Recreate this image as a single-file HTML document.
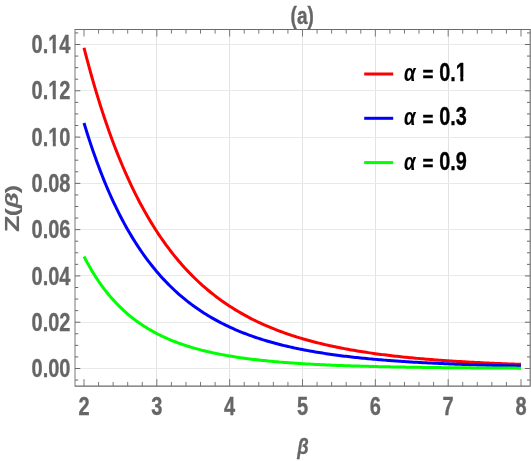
<!DOCTYPE html>
<html><head><meta charset="utf-8"><title>(a)</title>
<style>
html,body{margin:0;padding:0;background:#ffffff;}
body{width:531px;height:461px;overflow:hidden;font-family:"Liberation Sans",sans-serif;}
svg{display:block;will-change:transform;}
text{font-family:"Liberation Sans",sans-serif;font-weight:bold;stroke-width:0.35;stroke-linejoin:round;}
</style></head><body>
<svg width="531" height="461" viewBox="0 0 531 461">
<rect x="0" y="0" width="531" height="461" fill="#ffffff"/>

<g stroke-width="1" shape-rendering="crispEdges">
<line x1="156.5" y1="29.5" x2="156.5" y2="386.1" stroke="#e3e3e3"/>
<line x1="229.5" y1="29.5" x2="229.5" y2="386.1" stroke="#e3e3e3"/>
<line x1="302.5" y1="29.5" x2="302.5" y2="386.1" stroke="#e3e3e3"/>
<line x1="375.5" y1="29.5" x2="375.5" y2="386.1" stroke="#e3e3e3"/>
<line x1="448.5" y1="29.5" x2="448.5" y2="386.1" stroke="#e3e3e3"/>
<line x1="75.0" y1="368.5" x2="530.2" y2="368.5" stroke="#e9e9e9"/>
<line x1="75.0" y1="322.5" x2="530.2" y2="322.5" stroke="#e9e9e9"/>
<line x1="75.0" y1="275.5" x2="530.2" y2="275.5" stroke="#e9e9e9"/>
<line x1="75.0" y1="229.5" x2="530.2" y2="229.5" stroke="#e9e9e9"/>
<line x1="75.0" y1="183.5" x2="530.2" y2="183.5" stroke="#e9e9e9"/>
<line x1="75.0" y1="137.5" x2="530.2" y2="137.5" stroke="#e9e9e9"/>
<line x1="75.0" y1="90.5" x2="530.2" y2="90.5" stroke="#e9e9e9"/>
<line x1="75.0" y1="44.5" x2="530.2" y2="44.5" stroke="#e9e9e9"/>
</g>
<g fill="none" stroke-width="3.0" stroke-linecap="butt" stroke-linejoin="round">
<path d="M84.00,47.75 L85.82,54.82 L87.64,61.72 L89.46,68.44 L91.28,75.00 L93.10,81.40 L94.92,87.64 L96.75,93.74 L98.57,99.68 L100.39,105.48 L102.21,111.15 L104.03,116.67 L105.85,122.07 L107.67,127.34 L109.49,132.48 L111.31,137.50 L113.13,142.40 L114.95,147.19 L116.78,151.87 L118.60,156.44 L120.42,160.90 L122.24,165.26 L124.06,169.51 L125.88,173.67 L127.70,177.73 L129.52,181.70 L131.34,185.58 L133.16,189.37 L134.98,193.08 L136.80,196.70 L138.62,200.24 L140.45,203.70 L142.27,207.08 L144.09,210.38 L145.91,213.61 L147.73,216.77 L149.55,219.86 L151.37,222.88 L153.19,225.83 L155.01,228.72 L156.83,231.55 L158.65,234.31 L160.47,237.01 L162.30,239.65 L164.12,242.23 L165.94,244.76 L167.76,247.23 L169.58,249.65 L171.40,252.02 L173.22,254.33 L175.04,256.60 L176.86,258.81 L178.68,260.98 L180.50,263.10 L182.32,265.18 L184.15,267.21 L185.97,269.20 L187.79,271.14 L189.61,273.05 L191.43,274.91 L193.25,276.74 L195.07,278.52 L196.89,280.27 L198.71,281.98 L200.53,283.66 L202.35,285.30 L204.18,286.90 L206.00,288.47 L207.82,290.01 L209.64,291.52 L211.46,293.00 L213.28,294.44 L215.10,295.86 L216.92,297.24 L218.74,298.60 L220.56,299.93 L222.38,301.23 L224.20,302.51 L226.03,303.76 L227.85,304.98 L229.67,306.18 L231.49,307.35 L233.31,308.51 L235.13,309.63 L236.95,310.74 L238.77,311.82 L240.59,312.88 L242.41,313.92 L244.23,314.93 L246.05,315.93 L247.88,316.91 L249.70,317.86 L251.52,318.80 L253.34,319.72 L255.16,320.62 L256.98,321.50 L258.80,322.37 L260.62,323.22 L262.44,324.05 L264.26,324.86 L266.08,325.66 L267.90,326.44 L269.73,327.21 L271.55,327.96 L273.37,328.70 L275.19,329.42 L277.01,330.13 L278.83,330.83 L280.65,331.51 L282.47,332.18 L284.29,332.83 L286.11,333.47 L287.93,334.10 L289.75,334.72 L291.57,335.33 L293.40,335.92 L295.22,336.50 L297.04,337.07 L298.86,337.63 L300.68,338.18 L302.50,338.72 L304.32,339.25 L306.14,339.77 L307.96,340.28 L309.78,340.78 L311.60,341.26 L313.43,341.74 L315.25,342.21 L317.07,342.68 L318.89,343.13 L320.71,343.57 L322.53,344.01 L324.35,344.44 L326.17,344.86 L327.99,345.27 L329.81,345.67 L331.63,346.07 L333.45,346.46 L335.27,346.84 L337.10,347.21 L338.92,347.58 L340.74,347.94 L342.56,348.30 L344.38,348.64 L346.20,348.98 L348.02,349.32 L349.84,349.65 L351.66,349.97 L353.48,350.28 L355.30,350.60 L357.12,350.90 L358.95,351.20 L360.77,351.49 L362.59,351.78 L364.41,352.06 L366.23,352.34 L368.05,352.61 L369.87,352.88 L371.69,353.14 L373.51,353.40 L375.33,353.66 L377.15,353.90 L378.97,354.15 L380.80,354.39 L382.62,354.62 L384.44,354.86 L386.26,355.08 L388.08,355.31 L389.90,355.52 L391.72,355.74 L393.54,355.95 L395.36,356.16 L397.18,356.36 L399.00,356.56 L400.83,356.76 L402.65,356.95 L404.47,357.14 L406.29,357.33 L408.11,357.51 L409.93,357.69 L411.75,357.86 L413.57,358.04 L415.39,358.21 L417.21,358.37 L419.03,358.54 L420.85,358.70 L422.68,358.86 L424.50,359.01 L426.32,359.17 L428.14,359.32 L429.96,359.47 L431.78,359.61 L433.60,359.75 L435.42,359.89 L437.24,360.03 L439.06,360.17 L440.88,360.30 L442.70,360.43 L444.53,360.56 L446.35,360.68 L448.17,360.81 L449.99,360.93 L451.81,361.05 L453.63,361.17 L455.45,361.28 L457.27,361.40 L459.09,361.51 L460.91,361.62 L462.73,361.73 L464.55,361.83 L466.38,361.94 L468.20,362.04 L470.02,362.14 L471.84,362.24 L473.66,362.33 L475.48,362.43 L477.30,362.52 L479.12,362.62 L480.94,362.71 L482.76,362.80 L484.58,362.88 L486.40,362.97 L488.23,363.06 L490.05,363.14 L491.87,363.22 L493.69,363.30 L495.51,363.38 L497.33,363.46 L499.15,363.54 L500.97,363.61 L502.79,363.69 L504.61,363.76 L506.43,363.83 L508.25,363.90 L510.08,363.97 L511.90,364.04 L513.72,364.11 L515.54,364.17 L517.36,364.24 L519.18,364.30 L521.00,364.36" stroke="#ff0000"/>
<path d="M84.00,122.97 L85.82,128.93 L87.64,134.73 L89.46,140.36 L91.28,145.85 L93.10,151.18 L94.92,156.37 L96.75,161.43 L98.57,166.35 L100.39,171.13 L102.21,175.79 L104.03,180.33 L105.85,184.75 L107.67,189.05 L109.49,193.25 L111.31,197.33 L113.13,201.30 L114.95,205.18 L116.78,208.95 L118.60,212.63 L120.42,216.21 L122.24,219.70 L124.06,223.10 L125.88,226.42 L127.70,229.65 L129.52,232.81 L131.34,235.88 L133.16,238.87 L134.98,241.79 L136.80,244.64 L138.62,247.42 L140.45,250.13 L142.27,252.77 L144.09,255.35 L145.91,257.86 L147.73,260.31 L149.55,262.70 L151.37,265.04 L153.19,267.31 L155.01,269.54 L156.83,271.70 L158.65,273.82 L160.47,275.89 L162.30,277.90 L164.12,279.87 L165.94,281.79 L167.76,283.66 L169.58,285.49 L171.40,287.28 L173.22,289.03 L175.04,290.73 L176.86,292.39 L178.68,294.02 L180.50,295.60 L182.32,297.15 L184.15,298.67 L185.97,300.15 L187.79,301.59 L189.61,303.00 L191.43,304.38 L193.25,305.72 L195.07,307.04 L196.89,308.32 L198.71,309.58 L200.53,310.81 L202.35,312.01 L204.18,313.18 L206.00,314.32 L207.82,315.44 L209.64,316.53 L211.46,317.60 L213.28,318.65 L215.10,319.67 L216.92,320.67 L218.74,321.65 L220.56,322.60 L222.38,323.53 L224.20,324.45 L226.03,325.34 L227.85,326.21 L229.67,327.06 L231.49,327.90 L233.31,328.71 L235.13,329.51 L236.95,330.29 L238.77,331.06 L240.59,331.80 L242.41,332.53 L244.23,333.25 L246.05,333.95 L247.88,334.63 L249.70,335.30 L251.52,335.96 L253.34,336.60 L255.16,337.22 L256.98,337.84 L258.80,338.44 L260.62,339.02 L262.44,339.60 L264.26,340.16 L266.08,340.71 L267.90,341.25 L269.73,341.78 L271.55,342.29 L273.37,342.80 L275.19,343.29 L277.01,343.78 L278.83,344.25 L280.65,344.72 L282.47,345.17 L284.29,345.61 L286.11,346.05 L287.93,346.48 L289.75,346.89 L291.57,347.30 L293.40,347.70 L295.22,348.10 L297.04,348.48 L298.86,348.86 L300.68,349.22 L302.50,349.59 L304.32,349.94 L306.14,350.28 L307.96,350.62 L309.78,350.96 L311.60,351.28 L313.43,351.60 L315.25,351.91 L317.07,352.22 L318.89,352.52 L320.71,352.81 L322.53,353.10 L324.35,353.38 L326.17,353.66 L327.99,353.93 L329.81,354.19 L331.63,354.45 L333.45,354.71 L335.27,354.96 L337.10,355.20 L338.92,355.44 L340.74,355.68 L342.56,355.91 L344.38,356.14 L346.20,356.36 L348.02,356.57 L349.84,356.79 L351.66,357.00 L353.48,357.20 L355.30,357.40 L357.12,357.60 L358.95,357.79 L360.77,357.98 L362.59,358.16 L364.41,358.35 L366.23,358.53 L368.05,358.70 L369.87,358.87 L371.69,359.04 L373.51,359.20 L375.33,359.37 L377.15,359.52 L378.97,359.68 L380.80,359.83 L382.62,359.98 L384.44,360.13 L386.26,360.27 L388.08,360.41 L389.90,360.55 L391.72,360.69 L393.54,360.82 L395.36,360.95 L397.18,361.08 L399.00,361.21 L400.83,361.33 L402.65,361.45 L404.47,361.57 L406.29,361.69 L408.11,361.80 L409.93,361.92 L411.75,362.03 L413.57,362.14 L415.39,362.24 L417.21,362.35 L419.03,362.45 L420.85,362.55 L422.68,362.65 L424.50,362.74 L426.32,362.84 L428.14,362.93 L429.96,363.02 L431.78,363.11 L433.60,363.20 L435.42,363.29 L437.24,363.37 L439.06,363.46 L440.88,363.54 L442.70,363.62 L444.53,363.70 L446.35,363.78 L448.17,363.85 L449.99,363.93 L451.81,364.00 L453.63,364.08 L455.45,364.15 L457.27,364.22 L459.09,364.28 L460.91,364.35 L462.73,364.42 L464.55,364.48 L466.38,364.55 L468.20,364.61 L470.02,364.67 L471.84,364.73 L473.66,364.79 L475.48,364.85 L477.30,364.91 L479.12,364.96 L480.94,365.02 L482.76,365.07 L484.58,365.12 L486.40,365.18 L488.23,365.23 L490.05,365.28 L491.87,365.33 L493.69,365.38 L495.51,365.43 L497.33,365.47 L499.15,365.52 L500.97,365.56 L502.79,365.61 L504.61,365.65 L506.43,365.70 L508.25,365.74 L510.08,365.78 L511.90,365.82 L513.72,365.86 L515.54,365.90 L517.36,365.94 L519.18,365.98 L521.00,366.02" stroke="#0000ff"/>
<path d="M84.00,256.47 L85.82,259.97 L87.64,263.35 L89.46,266.60 L91.28,269.74 L93.10,272.76 L94.92,275.68 L96.75,278.49 L98.57,281.21 L100.39,283.83 L102.21,286.36 L104.03,288.80 L105.85,291.16 L107.67,293.44 L109.49,295.64 L111.31,297.77 L113.13,299.83 L114.95,301.82 L116.78,303.74 L118.60,305.60 L120.42,307.40 L122.24,309.14 L124.06,310.83 L125.88,312.46 L127.70,314.04 L129.52,315.57 L131.34,317.05 L133.16,318.48 L134.98,319.87 L136.80,321.22 L138.62,322.52 L140.45,323.78 L142.27,325.01 L144.09,326.20 L145.91,327.35 L147.73,328.47 L149.55,329.55 L151.37,330.60 L153.19,331.62 L155.01,332.61 L156.83,333.56 L158.65,334.49 L160.47,335.40 L162.30,336.27 L164.12,337.13 L165.94,337.95 L167.76,338.75 L169.58,339.53 L171.40,340.29 L173.22,341.02 L175.04,341.74 L176.86,342.43 L178.68,343.11 L180.50,343.76 L182.32,344.40 L184.15,345.02 L185.97,345.62 L187.79,346.20 L189.61,346.77 L191.43,347.32 L193.25,347.86 L195.07,348.38 L196.89,348.89 L198.71,349.38 L200.53,349.86 L202.35,350.33 L204.18,350.78 L206.00,351.23 L207.82,351.66 L209.64,352.07 L211.46,352.48 L213.28,352.88 L215.10,353.26 L216.92,353.64 L218.74,354.01 L220.56,354.36 L222.38,354.71 L224.20,355.05 L226.03,355.37 L227.85,355.69 L229.67,356.01 L231.49,356.31 L233.31,356.60 L235.13,356.89 L236.95,357.17 L238.77,357.44 L240.59,357.71 L242.41,357.97 L244.23,358.22 L246.05,358.47 L247.88,358.71 L249.70,358.94 L251.52,359.17 L253.34,359.39 L255.16,359.61 L256.98,359.82 L258.80,360.02 L260.62,360.22 L262.44,360.42 L264.26,360.61 L266.08,360.79 L267.90,360.98 L269.73,361.15 L271.55,361.32 L273.37,361.49 L275.19,361.66 L277.01,361.81 L278.83,361.97 L280.65,362.12 L282.47,362.27 L284.29,362.41 L286.11,362.56 L287.93,362.69 L289.75,362.83 L291.57,362.96 L293.40,363.08 L295.22,363.21 L297.04,363.33 L298.86,363.45 L300.68,363.56 L302.50,363.68 L304.32,363.79 L306.14,363.89 L307.96,364.00 L309.78,364.10 L311.60,364.20 L313.43,364.30 L315.25,364.39 L317.07,364.49 L318.89,364.58 L320.71,364.67 L322.53,364.75 L324.35,364.84 L326.17,364.92 L327.99,365.00 L329.81,365.08 L331.63,365.16 L333.45,365.23 L335.27,365.30 L337.10,365.38 L338.92,365.44 L340.74,365.51 L342.56,365.58 L344.38,365.64 L346.20,365.71 L348.02,365.77 L349.84,365.83 L351.66,365.89 L353.48,365.95 L355.30,366.00 L357.12,366.06 L358.95,366.11 L360.77,366.17 L362.59,366.22 L364.41,366.27 L366.23,366.32 L368.05,366.36 L369.87,366.41 L371.69,366.46 L373.51,366.50 L375.33,366.55 L377.15,366.59 L378.97,366.63 L380.80,366.67 L382.62,366.71 L384.44,366.75 L386.26,366.79 L388.08,366.82 L389.90,366.86 L391.72,366.90 L393.54,366.93 L395.36,366.97 L397.18,367.00 L399.00,367.03 L400.83,367.06 L402.65,367.09 L404.47,367.12 L406.29,367.15 L408.11,367.18 L409.93,367.21 L411.75,367.24 L413.57,367.27 L415.39,367.29 L417.21,367.32 L419.03,367.34 L420.85,367.37 L422.68,367.39 L424.50,367.42 L426.32,367.44 L428.14,367.46 L429.96,367.48 L431.78,367.51 L433.60,367.53 L435.42,367.55 L437.24,367.57 L439.06,367.59 L440.88,367.61 L442.70,367.63 L444.53,367.64 L446.35,367.66 L448.17,367.68 L449.99,367.70 L451.81,367.71 L453.63,367.73 L455.45,367.75 L457.27,367.76 L459.09,367.78 L460.91,367.79 L462.73,367.81 L464.55,367.82 L466.38,367.84 L468.20,367.85 L470.02,367.86 L471.84,367.88 L473.66,367.89 L475.48,367.90 L477.30,367.92 L479.12,367.93 L480.94,367.94 L482.76,367.95 L484.58,367.96 L486.40,367.97 L488.23,367.99 L490.05,368.00 L491.87,368.01 L493.69,368.02 L495.51,368.03 L497.33,368.04 L499.15,368.05 L500.97,368.06 L502.79,368.06 L504.61,368.07 L506.43,368.08 L508.25,368.09 L510.08,368.10 L511.90,368.11 L513.72,368.12 L515.54,368.12 L517.36,368.13 L519.18,368.14 L521.00,368.15" stroke="#00ff00"/>
</g>
<g stroke="#6a6a6a" stroke-width="1">
<path stroke-width="0.9" d="M84.00,386.1v-7.0M84.00,29.5v7.0M98.57,386.1v-4.2M98.57,29.5v4.2M113.13,386.1v-4.2M113.13,29.5v4.2M127.70,386.1v-4.2M127.70,29.5v4.2M142.27,386.1v-4.2M142.27,29.5v4.2M156.83,386.1v-7.0M156.83,29.5v7.0M171.40,386.1v-4.2M171.40,29.5v4.2M185.97,386.1v-4.2M185.97,29.5v4.2M200.53,386.1v-4.2M200.53,29.5v4.2M215.10,386.1v-4.2M215.10,29.5v4.2M229.67,386.1v-7.0M229.67,29.5v7.0M244.23,386.1v-4.2M244.23,29.5v4.2M258.80,386.1v-4.2M258.80,29.5v4.2M273.37,386.1v-4.2M273.37,29.5v4.2M287.93,386.1v-4.2M287.93,29.5v4.2M302.50,386.1v-7.0M302.50,29.5v7.0M317.07,386.1v-4.2M317.07,29.5v4.2M331.63,386.1v-4.2M331.63,29.5v4.2M346.20,386.1v-4.2M346.20,29.5v4.2M360.77,386.1v-4.2M360.77,29.5v4.2M375.33,386.1v-7.0M375.33,29.5v7.0M389.90,386.1v-4.2M389.90,29.5v4.2M404.47,386.1v-4.2M404.47,29.5v4.2M419.03,386.1v-4.2M419.03,29.5v4.2M433.60,386.1v-4.2M433.60,29.5v4.2M448.17,386.1v-7.0M448.17,29.5v7.0M462.73,386.1v-4.2M462.73,29.5v4.2M477.30,386.1v-4.2M477.30,29.5v4.2M491.87,386.1v-4.2M491.87,29.5v4.2M506.43,386.1v-4.2M506.43,29.5v4.2M521.00,386.1v-7.0M521.00,29.5v7.0"/>
<path d="M75.0,380.07h3.2M530.2,380.07h-3.2M75.0,368.50h5.3M530.2,368.50h-5.3M75.0,356.93h3.2M530.2,356.93h-3.2M75.0,345.36h3.2M530.2,345.36h-3.2M75.0,333.79h3.2M530.2,333.79h-3.2M75.0,322.21h5.3M530.2,322.21h-5.3M75.0,310.64h3.2M530.2,310.64h-3.2M75.0,299.07h3.2M530.2,299.07h-3.2M75.0,287.50h3.2M530.2,287.50h-3.2M75.0,275.93h5.3M530.2,275.93h-5.3M75.0,264.36h3.2M530.2,264.36h-3.2M75.0,252.79h3.2M530.2,252.79h-3.2M75.0,241.21h3.2M530.2,241.21h-3.2M75.0,229.64h5.3M530.2,229.64h-5.3M75.0,218.07h3.2M530.2,218.07h-3.2M75.0,206.50h3.2M530.2,206.50h-3.2M75.0,194.93h3.2M530.2,194.93h-3.2M75.0,183.36h5.3M530.2,183.36h-5.3M75.0,171.79h3.2M530.2,171.79h-3.2M75.0,160.21h3.2M530.2,160.21h-3.2M75.0,148.64h3.2M530.2,148.64h-3.2M75.0,137.07h5.3M530.2,137.07h-5.3M75.0,125.50h3.2M530.2,125.50h-3.2M75.0,113.93h3.2M530.2,113.93h-3.2M75.0,102.36h3.2M530.2,102.36h-3.2M75.0,90.79h5.3M530.2,90.79h-5.3M75.0,79.21h3.2M530.2,79.21h-3.2M75.0,67.64h3.2M530.2,67.64h-3.2M75.0,56.07h3.2M530.2,56.07h-3.2M75.0,44.50h5.3M530.2,44.50h-5.3M75.0,32.93h3.2M530.2,32.93h-3.2"/>
</g>
<g stroke="#6a6a6a" fill="none">
<line x1="75.0" y1="29.5" x2="530.2" y2="29.5" stroke-width="1"/>
<line x1="75.0" y1="386.1" x2="530.2" y2="386.1" stroke-width="1.15"/>
<line x1="75.0" y1="29.0" x2="75.0" y2="386.6" stroke-width="0.9"/>
<line x1="530.2" y1="29.0" x2="530.2" y2="386.6" stroke-width="1.1"/>
</g>
<text transform="translate(84.0,415) scale(0.8,1)" text-anchor="middle" font-size="25.0" fill="#666666" stroke="#666666" >2</text>
<text transform="translate(156.83,415) scale(0.8,1)" text-anchor="middle" font-size="25.0" fill="#666666" stroke="#666666" >3</text>
<text transform="translate(229.67,415) scale(0.8,1)" text-anchor="middle" font-size="25.0" fill="#666666" stroke="#666666" >4</text>
<text transform="translate(302.5,415) scale(0.8,1)" text-anchor="middle" font-size="25.0" fill="#666666" stroke="#666666" >5</text>
<text transform="translate(375.33,415) scale(0.8,1)" text-anchor="middle" font-size="25.0" fill="#666666" stroke="#666666" >6</text>
<text transform="translate(448.17,415) scale(0.8,1)" text-anchor="middle" font-size="25.0" fill="#666666" stroke="#666666" >7</text>
<text transform="translate(521.0,415) scale(0.8,1)" text-anchor="middle" font-size="25.0" fill="#666666" stroke="#666666" >8</text>
<text transform="translate(70.5,377.2) scale(0.8,1)" text-anchor="end" font-size="25.0" fill="#666666" stroke="#666666" >0.00</text>
<text transform="translate(70.5,330.91) scale(0.8,1)" text-anchor="end" font-size="25.0" fill="#666666" stroke="#666666" >0.02</text>
<text transform="translate(70.5,284.63) scale(0.8,1)" text-anchor="end" font-size="25.0" fill="#666666" stroke="#666666" >0.04</text>
<text transform="translate(70.5,238.34) scale(0.8,1)" text-anchor="end" font-size="25.0" fill="#666666" stroke="#666666" >0.06</text>
<text transform="translate(70.5,192.06) scale(0.8,1)" text-anchor="end" font-size="25.0" fill="#666666" stroke="#666666" >0.08</text>
<text transform="translate(70.5,145.77) scale(0.8,1)" text-anchor="end" font-size="25.0" fill="#666666" stroke="#666666" >0.10</text>
<text transform="translate(70.5,99.49) scale(0.8,1)" text-anchor="end" font-size="25.0" fill="#666666" stroke="#666666" >0.12</text>
<text transform="translate(70.5,53.2) scale(0.8,1)" text-anchor="end" font-size="25.0" fill="#666666" stroke="#666666" >0.14</text>
<rect x="48.61" y="142.05" width="4.17" height="5.03" fill="#ffffff"/><rect x="55.81" y="142.05" width="3.71" height="5.03" fill="#ffffff"/>
<rect x="48.61" y="95.76" width="4.17" height="5.03" fill="#ffffff"/><rect x="55.81" y="95.76" width="3.71" height="5.03" fill="#ffffff"/>
<rect x="48.61" y="49.47" width="4.17" height="5.03" fill="#ffffff"/><rect x="55.81" y="49.47" width="3.71" height="5.03" fill="#ffffff"/>
<text transform="translate(302.2,23.7) scale(0.82,1)" text-anchor="middle" font-size="23.2" fill="#666666" stroke="#666666" >(a)</text>
<text transform="translate(303.0,454.4) scale(0.83,1)" text-anchor="middle" font-size="22.2" fill="#666666" stroke="#666666" font-style="italic">β</text>
<text transform="translate(18.2,208.5) scale(0.735,1) rotate(-90)" text-anchor="middle" font-size="25.0" fill="#666666" stroke="#666666" style="stroke-width:0.12"><tspan font-size="27.2" dy="0.8">Z</tspan><tspan dx="-0.7" dy="-0.8">(</tspan><tspan dx="-0.7" font-size="26.2" font-style="italic">β</tspan><tspan dx="-1.0">)</tspan></text>
<line x1="364.2" y1="74.00" x2="393.2" y2="74.00" stroke="#ff0000" stroke-width="3.0"/>
<text transform="translate(404.1,80.90) scale(0.775,1)" font-size="24" font-style="italic" fill="#000000" stroke="#000000" style="stroke-width:0.1">α</text>
<text transform="translate(422.5,81.46) scale(0.966,1)" font-size="19.4" fill="#000000" stroke="#000000">=</text>
<text transform="translate(439.26,80.90) scale(0.77,1)" font-size="25.8" fill="#000000" stroke="#000000">0.1</text>
<line x1="364.2" y1="118.30" x2="393.2" y2="118.30" stroke="#0000ff" stroke-width="3.0"/>
<text transform="translate(404.1,125.20) scale(0.775,1)" font-size="24" font-style="italic" fill="#000000" stroke="#000000" style="stroke-width:0.1">α</text>
<text transform="translate(422.5,125.76) scale(0.966,1)" font-size="19.4" fill="#000000" stroke="#000000">=</text>
<text transform="translate(439.26,125.20) scale(0.77,1)" font-size="25.8" fill="#000000" stroke="#000000">0.3</text>
<line x1="364.2" y1="162.60" x2="393.2" y2="162.60" stroke="#00ff00" stroke-width="3.0"/>
<text transform="translate(404.1,169.50) scale(0.775,1)" font-size="24" font-style="italic" fill="#000000" stroke="#000000" style="stroke-width:0.1">α</text>
<text transform="translate(422.5,170.06) scale(0.966,1)" font-size="19.4" fill="#000000" stroke="#000000">=</text>
<text transform="translate(439.26,169.50) scale(0.77,1)" font-size="25.8" fill="#000000" stroke="#000000">0.9</text>
<rect x="456.18" y="77.09" width="4.15" height="5.11" fill="#ffffff"/><rect x="463.32" y="77.09" width="4.90" height="5.11" fill="#ffffff"/>
</svg></body></html>
